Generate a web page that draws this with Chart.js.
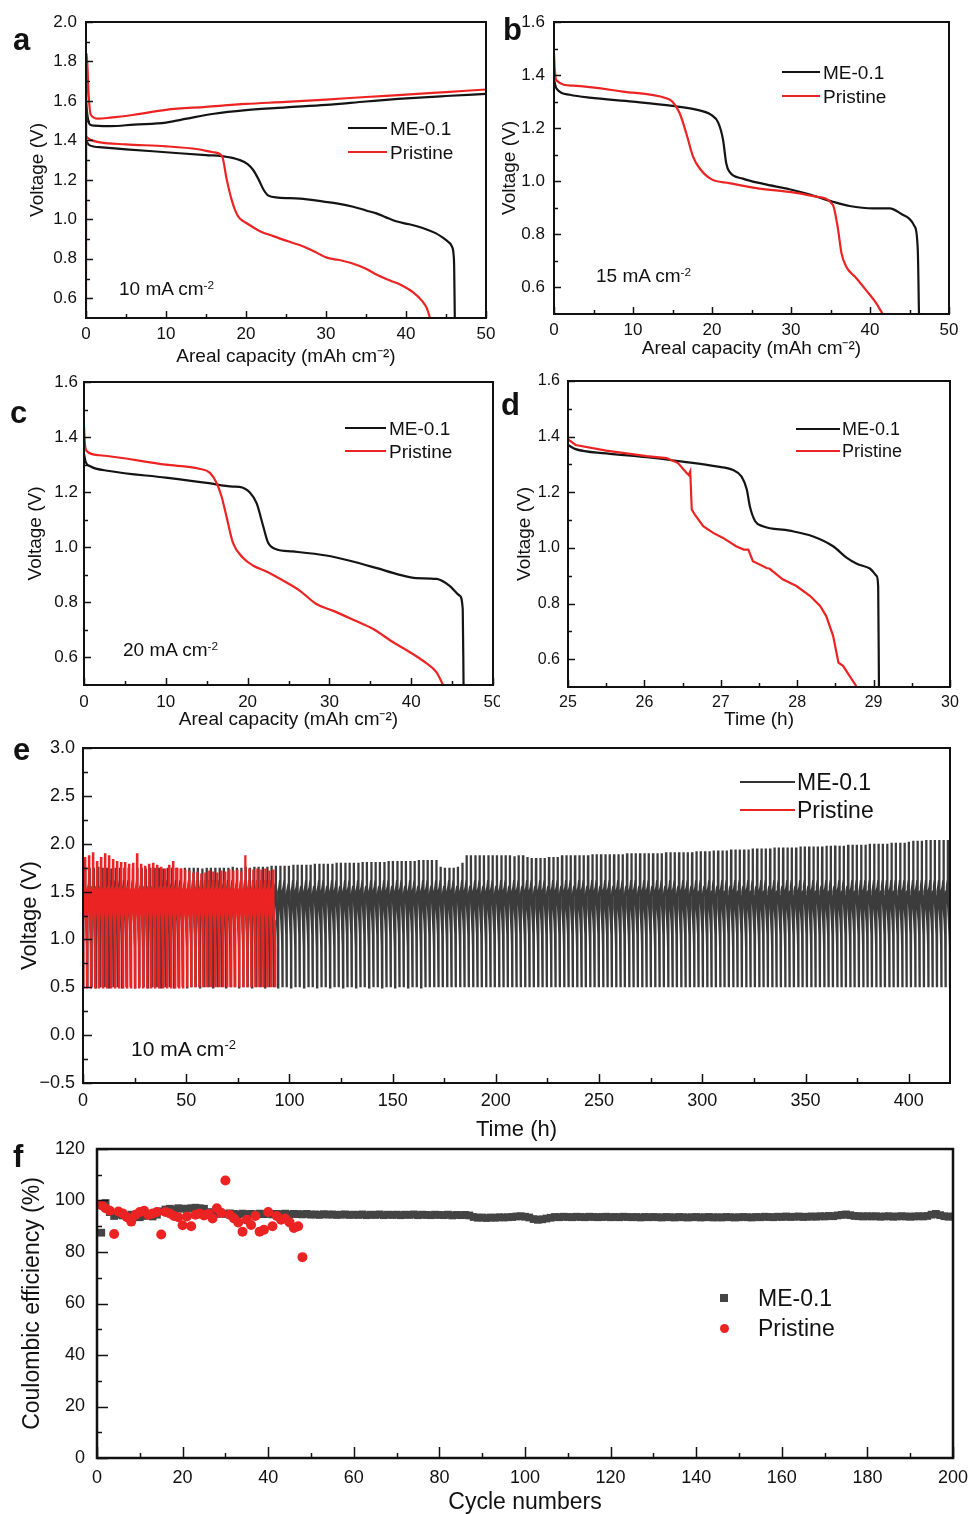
<!DOCTYPE html>
<html><head><meta charset="utf-8">
<script src="https://cdn.jsdelivr.net/npm/chart.js@4/dist/chart.umd.min.js"></script>
<style>
html,body{margin:0;padding:0;background:#fff}
body{width:971px;height:1514px;position:relative;overflow:hidden;font-family:"Liberation Sans",Arial,Helvetica,sans-serif;color:#111}
canvas{position:absolute}
.t{position:absolute;white-space:nowrap;line-height:1}
.t sup{font-size:0.62em;position:relative;top:-0.5em;vertical-align:baseline;line-height:0}
.ln{position:absolute;height:2px}
</style></head><body>
<script>
// ---------------- DATA ----------------
// Panel a (10 mA cm-2): [capacity mAh cm-2, voltage V]
const aME_dis = [[0,1.40],[0.4,1.376],[2,1.365],[5,1.355],[10,1.34],[15,1.325],[17,1.32],[19.25,1.30],[20.2,1.28],[20.9,1.25],[21.6,1.2],[22.2,1.15],[22.8,1.12],[24,1.11],[26.75,1.105],[29.7,1.09],[31.5,1.08],[33.4,1.064],[35,1.045],[36.3,1.03],[37.5,1.01],[38.75,0.99],[40.4,0.975],[42.5,0.95],[43.7,0.93],[44.6,0.907],[45.3,0.885],[45.7,0.865],[45.95,0.82],[46.02,0.76],[46.1,0.5]];
const aME_chg = [[0,1.60],[0.2,1.52],[0.5,1.48],[1,1.475],[3,1.472],[6,1.48],[10,1.49],[12.6,1.51],[16,1.535],[20,1.553],[25,1.567],[30,1.58],[35,1.597],[39,1.61],[45,1.625],[50,1.636]];
const aPR_dis = [[0,1.42],[0.5,1.405],[1.75,1.39],[5,1.38],[10,1.37],[14,1.355],[15.9,1.34],[17,1.32],[17.6,1.2],[18.2,1.1],[18.7,1.04],[19.1,1.01],[20.1,0.98],[21.75,0.94],[23.4,0.915],[25.9,0.88],[27,0.865],[28.4,0.84],[30.1,0.806],[31.5,0.795],[33.4,0.775],[35,0.75],[36.3,0.72],[38,0.69],[39.25,0.67],[40.9,0.63],[42,0.587],[42.6,0.55],[43,0.5]];
const aPR_chg = [[0,0.5],[0.03,1.6],[0.1,1.84],[0.3,1.65],[0.6,1.53],[1.5,1.51],[3,1.515],[6,1.53],[10,1.555],[15,1.57],[20,1.585],[25,1.595],[30,1.607],[35,1.62],[40,1.632],[45,1.645],[50,1.658]];
// Panel b (15 mA cm-2)
const bME = [[0,1.382],[0.3,1.35],[2,1.326],[4.5,1.315],[10,1.30],[15,1.284],[18,1.27],[19.9,1.25],[20.8,1.22],[21.4,1.156],[21.8,1.068],[22.2,1.036],[23.9,1.01],[26.5,0.99],[29.8,0.97],[32.4,0.95],[35.3,0.923],[37.4,0.907],[40.4,0.898],[42.5,0.898],[44.2,0.873],[45.65,0.83],[46.05,0.74],[46.2,0.5]];
const bPR = [[0,1.48],[0.1,1.42],[0.3,1.38],[2.4,1.36],[8.7,1.338],[14.2,1.313],[15,1.30],[15.9,1.257],[16.75,1.18],[17.6,1.093],[18.4,1.05],[19.9,1.008],[22.2,0.993],[25.6,0.974],[29.8,0.96],[33.2,0.942],[35.3,0.911],[35.9,0.829],[36.4,0.728],[37,0.678],[38.3,0.634],[39.5,0.59],[40.8,0.54],[41.6,0.5]];
// Panel c (20 mA cm-2)
const cME = [[0,1.34],[0.2,1.31],[0.7,1.295],[3.1,1.277],[10,1.253],[15,1.234],[18.2,1.22],[19,1.219],[20.3,1.198],[21.1,1.16],[21.9,1.077],[22.5,1.017],[23.5,0.993],[25.5,0.985],[29.6,0.97],[32.5,0.951],[35.7,0.925],[38.6,0.90],[40.6,0.888],[43.1,0.885],[44.7,0.86],[45.9,0.825],[46.3,0.776],[46.4,0.5]];
const cPR = [[0,1.44],[0.1,1.38],[0.3,1.35],[1.9,1.334],[10,1.30],[14.1,1.285],[15.4,1.27],[16.2,1.234],[16.8,1.186],[17.4,1.114],[18.2,1.017],[19.4,0.963],[20.7,0.933],[22.3,0.912],[24.7,0.873],[26.4,0.842],[28.4,0.794],[30.4,0.77],[32.9,0.737],[35.3,0.704],[37.8,0.655],[39.8,0.62],[41.8,0.58],[43.1,0.546],[43.9,0.5]];
// Panel d (time h)
const dME = [[25,1.37],[25.1,1.355],[25.5,1.34],[26.03,1.326],[26.5,1.31],[26.94,1.293],[27.16,1.28],[27.27,1.257],[27.34,1.21],[27.38,1.15],[27.45,1.096],[27.55,1.078],[27.9,1.062],[28.2,1.042],[28.47,1.006],[28.65,0.964],[28.78,0.943],[28.95,0.926],[29.04,0.899],[29.06,0.86],[29.07,0.5]];
const dPR = [[25,1.39],[25.1,1.37],[25.5,1.35],[26.03,1.33],[26.29,1.323],[26.44,1.305],[26.55,1.27],[26.58,1.262],[26.6,1.275],[26.62,1.138],[26.66,1.12],[26.77,1.078],[26.9,1.054],[27.03,1.036],[27.2,1.006],[27.3,0.994],[27.36,0.994],[27.42,0.952],[27.6,0.928],[27.64,0.925],[27.81,0.887],[27.99,0.863],[28.17,0.827],[28.3,0.791],[28.38,0.755],[28.47,0.684],[28.54,0.588],[28.6,0.576],[28.78,0.5]];
// Panel e: end-of-charge voltage of each cycle
const eME_peak = [1.76,1.75,1.75,1.76,1.75,1.75,1.74,1.75,1.75,1.75,
1.75,1.74,1.75,1.75,1.74,1.75,1.75,1.75,1.74,1.75,
1.75,1.75,1.74,1.75,1.75,1.75,1.75,1.74,1.75,1.75,
1.75,1.75,1.75,1.75,1.76,1.75,1.75,1.76,1.75,1.76,
1.76,1.76,1.76,1.77,1.77,1.77,1.77,1.77,1.78,1.78,
1.78,1.78,1.78,1.79,1.79,1.79,1.79,1.79,1.80,1.80,
1.80,1.80,1.80,1.80,1.81,1.81,1.81,1.81,1.81,1.81,
1.82,1.82,1.82,1.82,1.82,1.82,1.82,1.83,1.83,1.83,
1.83,1.83,1.76,1.75,1.75,1.75,1.76,1.80,1.88,1.88,
1.88,1.88,1.88,1.88,1.88,1.88,1.88,1.88,1.88,1.87,
1.88,1.88,1.86,1.85,1.85,1.85,1.85,1.86,1.86,1.86,
1.88,1.88,1.88,1.88,1.88,1.88,1.88,1.89,1.89,1.89,
1.89,1.89,1.89,1.89,1.89,1.90,1.90,1.90,1.90,1.90,
1.90,1.90,1.90,1.90,1.91,1.91,1.91,1.91,1.91,1.91,
1.91,1.92,1.92,1.92,1.92,1.93,1.93,1.93,1.93,1.94,
1.94,1.94,1.94,1.94,1.95,1.95,1.95,1.95,1.95,1.96,
1.96,1.96,1.96,1.96,1.96,1.97,1.97,1.97,1.97,1.97,
1.97,1.98,1.98,1.98,1.98,1.98,1.99,1.99,1.99,1.99,
1.99,2.00,2.00,2.00,2.00,2.00,2.01,2.01,2.01,2.01,
2.02,2.03,2.03,2.03,2.04,2.04,2.04,2.04,2.04,2.04];
const ePR_peak = [1.86,1.88,1.91,1.82,1.86,1.90,1.88,1.84,1.82,1.81,
1.81,1.79,1.80,1.90,1.79,1.77,1.79,1.80,1.78,1.76,
1.74,1.78,1.82,1.75,1.74,1.73,1.72,1.70,1.71,1.69,
1.70,1.72,1.71,1.70,1.72,1.71,1.73,1.72,1.73,1.71,
1.88,1.74,1.73,1.74,1.73,1.74,1.72,1.73];
const eME_cycleHours = 2.1;
const ePR_cycleHours = 1.94;
// one galvanostatic cycle: fraction of cycle time vs voltage (null = end-of-charge peak)
const eCycleFrac = [0,0.02,0.10,0.30,0.47,0.50,0.52,0.60,0.75,0.90,0.97,1.0];
const eCycleV    = [0.5,1.45,1.50,1.55,1.62,null,1.40,1.33,1.20,1.05,0.92,0.5];
// Panel f: Coulombic efficiency (%) per cycle
const fME_ce = [87.5,99.0,95.5,94.0,94.5,94.2,93.8,94.5,94.0,93.5,
94.0,94.5,93.8,94.5,95.8,96.5,96.8,96.5,97.0,96.8,
96.8,97.0,97.2,97.0,96.8,95.5,95.0,94.8,95.0,94.8,
95.0,94.8,94.6,94.9,94.7,94.8,94.6,94.9,94.7,94.8,
94.6,94.8,94.7,94.9,94.6,94.8,94.7,94.6,94.8,94.5,
94.6,94.4,94.7,94.5,94.6,94.4,94.5,94.6,94.4,94.5,
94.4,94.6,94.3,94.5,94.4,94.6,94.3,94.5,94.4,94.5,
94.3,94.5,94.4,94.6,94.3,94.5,94.4,94.3,94.5,94.4,
94.3,94.5,94.2,94.4,94.3,94.4,94.2,93.6,93.3,93.4,
93.2,93.4,93.3,93.5,93.4,93.5,93.6,93.8,93.9,93.7,
93.4,92.8,92.5,92.7,93.0,93.3,93.6,93.5,93.7,93.6,
93.5,93.7,93.6,93.5,93.7,93.6,93.5,93.6,93.7,93.5,
93.6,93.5,93.7,93.6,93.5,93.6,93.4,93.6,93.5,93.6,
93.5,93.4,93.6,93.5,93.4,93.6,93.5,93.4,93.5,93.6,
93.4,93.5,93.6,93.4,93.5,93.4,93.6,93.5,93.4,93.5,
93.6,93.5,93.4,93.6,93.5,93.7,93.6,93.5,93.7,93.6,
93.8,93.6,93.7,93.8,93.6,93.7,93.8,93.7,93.9,93.8,
94.0,93.9,94.2,94.4,94.6,94.3,94.0,93.9,93.8,93.9,
93.8,93.9,93.7,93.8,93.9,93.7,93.8,93.9,93.8,93.7,
93.8,93.9,93.8,94.0,94.5,94.8,94.3,93.9,93.7,93.8];
const fPR_ce = [98.2,97.0,96.0,87.0,95.7,95.0,93.5,91.8,94.5,95.5,
96.0,94.5,95.0,95.5,86.8,95.5,95.0,94.0,93.5,90.4,
93.8,90.0,94.5,95.0,94.2,94.8,93.0,97.0,95.2,107.8,
94.5,93.0,91.5,87.9,92.5,90.5,94.0,87.9,88.6,95.5,
90.0,94.0,92.5,93.0,91.5,89.3,90.0,78.0];

// Tick values and labels
const capTicks = [0,10,20,30,40,50];
const capTickLabels = ['0','10','20','30','40','50'];
const vTicksA = [0.6,0.8,1.0,1.2,1.4,1.6,1.8,2.0];
const vTickLabelsA = ['0.6','0.8','1.0','1.2','1.4','1.6','1.8','2.0'];
const vTicksBCD = [0.6,0.8,1.0,1.2,1.4,1.6];
const vTickLabelsBCD = ['0.6','0.8','1.0','1.2','1.4','1.6'];
const timeTicksD = [25,26,27,28,29,30];
const timeTickLabelsD = ['25','26','27','28','29','30'];
const timeTicksE = [0,50,100,150,200,250,300,350,400];
const timeTickLabelsE = ['0','50','100','150','200','250','300','350','400'];
const vTicksE = [-0.5,0,0.5,1.0,1.5,2.0,2.5,3.0];
const vTickLabelsE = ['\u22120.5','0.0','0.5','1.0','1.5','2.0','2.5','3.0'];
const cycTicksF = [0,20,40,60,80,100,120,140,160,180,200];
const cycTickLabelsF = ['0','20','40','60','80','100','120','140','160','180','200'];
const ceTicksF = [0,20,40,60,80,100,120];
const ceTickLabelsF = ['0','20','40','60','80','100','120'];

const BLACK = '#141414', RED = '#ec2323', EBLACK = '#333333', FGREY = '#444444';

// ---------------- PLUGIN: frame + inward ticks ----------------
const frameTicks = {
  id: 'frameTicks',
  afterDatasetsDraw(chart, args, o) {
    const {ctx, chartArea: ca, scales} = chart;
    const sx = scales.x, sy = scales.y;
    const majX = sx.ticks.map(t => t.value), majY = sy.ticks.map(t => t.value);
    const mid = a => a.slice(1).map((v, i) => (v + a[i]) / 2);
    ctx.save();
    ctx.strokeStyle = '#111';
    ctx.lineWidth = o.tickWidth || 1.5;
    const dx = (vals, len) => vals.forEach(v => {
      const p = Math.round(sx.getPixelForValue(v)) + 0.5;
      if (p < ca.left - 1 || p > ca.right + 1) return;
      ctx.beginPath(); ctx.moveTo(p, ca.bottom); ctx.lineTo(p, ca.bottom - len); ctx.stroke();
    });
    const dy = (vals, len) => vals.forEach(v => {
      const p = Math.round(sy.getPixelForValue(v)) + 0.5;
      if (p < ca.top - 1 || p > ca.bottom + 1) return;
      ctx.beginPath(); ctx.moveTo(ca.left, p); ctx.lineTo(ca.left + len, p); ctx.stroke();
    });
    dx(majX, o.major); dx(mid(majX), o.minor);
    dy(majY, o.major); dy(mid(majY), o.minor);
    ctx.lineWidth = o.frame || 2;
    ctx.strokeRect(ca.left, ca.top, ca.right - ca.left, ca.bottom - ca.top);
    ctx.restore();
  }
};
Chart.register(frameTicks);
Chart.defaults.font.family = '"Liberation Sans", Arial, Helvetica, sans-serif';
Chart.defaults.color = '#111';

function pts(arr) { return arr.map(p => ({x: p[0], y: p[1]})); }
function lineDs(label, arr, color, w, mono) {
  return {label, data: pts(arr), showLine: true, borderColor: color, backgroundColor: color,
    borderWidth: w, pointRadius: 0, tension: 0, cubicInterpolationMode: mono ? 'monotone' : 'default'};
}

function makeChart(c) {
  const cv = document.createElement('canvas');
  cv.width = c.W; cv.height = c.H;
  Object.assign(cv.style, {left: c.left + 'px', top: c.top + 'px', width: c.W + 'px', height: c.H + 'px'});
  document.body.appendChild(cv);
  return new Chart(cv.getContext('2d'), {
    type: 'scatter',
    data: {datasets: c.datasets},
    options: {
      responsive: false, animation: false, devicePixelRatio: 1,
      layout: {padding: {left: 0, top: c.area.T, right: c.W - c.area.R, bottom: 0}},
      plugins: {legend: {display: false}, tooltip: {enabled: false}, frameTicks: c.tk},
      scales: {
        x: {type: 'linear', min: c.x.min, max: c.x.max,
          afterBuildTicks: s => { s.ticks = c.x.ticks.map(v => ({value: v})); },
          afterFit: s => { s.height = c.H - c.area.B; s.paddingLeft = 0; s.paddingRight = 0; },
          ticks: {font: {size: c.x.fs}, padding: c.x.pad, maxRotation: 0, autoSkip: false, color: '#111',
            callback: (v, i) => c.x.labels[i]},
          grid: {display: false, drawTicks: false}, border: {display: false},
          title: {display: true, text: c.x.title, font: {size: c.x.tfs}, color: '#111', padding: {top: 0, bottom: c.x.tpad}}
        },
        y: {type: 'linear', min: c.y.min, max: c.y.max,
          afterBuildTicks: s => { s.ticks = c.y.ticks.map(v => ({value: v})); },
          afterFit: s => { s.width = c.area.L; s.paddingTop = 0; s.paddingBottom = 0; },
          ticks: {font: {size: c.y.fs}, padding: c.y.pad, autoSkip: false, color: '#111',
            callback: (v, i) => c.y.labels[i]},
          grid: {display: false, drawTicks: false}, border: {display: false},
          title: {display: true, text: c.y.title, font: {size: c.y.tfs}, color: '#111', padding: {top: c.y.tpad, bottom: 0}}
        }
      }
    }
  });
}

// ---------- panel a ----------
makeChart({left: 0, top: 0, W: 500, H: 370, area: {L: 86, T: 22, R: 486, B: 318},
  tk: {major: 7, minor: 4, frame: 2},
  x: {min: 0, max: 50, ticks: capTicks, labels: capTickLabels, fs: 17, pad: 6, title: 'Areal capacity (mAh cm\u207B\u00B2)', tfs: 19, tpad: 1.6},
  y: {min: 0.5, max: 2.0, ticks: vTicksA, labels: vTickLabelsA, fs: 17, pad: 9, title: 'Voltage (V)', tfs: 19, tpad: 26.6},
  datasets: [lineDs('Pristine', aPR_chg, RED, 2.2, true), lineDs('Pristine', aPR_dis, RED, 2.2, true),
             lineDs('ME-0.1', aME_chg, BLACK, 2.2, true), lineDs('ME-0.1', aME_dis, BLACK, 2.2, true)]
});
// ---------- panel b ----------
makeChart({left: 490, top: 0, W: 481, H: 370, area: {L: 64, T: 22, R: 459, B: 314},
  tk: {major: 7, minor: 4, frame: 2},
  x: {min: 0, max: 50, ticks: capTicks, labels: capTickLabels, fs: 17, pad: 6, title: 'Areal capacity (mAh cm\u207B\u00B2)', tfs: 19, tpad: 9.6},
  y: {min: 0.5, max: 1.6, ticks: vTicksBCD, labels: vTickLabelsBCD, fs: 17, pad: 9, title: 'Voltage (V)', tfs: 19, tpad: 8.6},
  datasets: [lineDs('Pristine', bPR, RED, 2.2, true), lineDs('ME-0.1', bME, BLACK, 2.2, true)]
});
// ---------- panel c ----------
makeChart({left: 0, top: 370, W: 500, H: 370, area: {L: 84, T: 12, R: 493, B: 315},
  tk: {major: 7, minor: 4, frame: 2},
  x: {min: 0, max: 50, ticks: capTicks, labels: capTickLabels, fs: 17, pad: 7, title: 'Areal capacity (mAh cm\u207B\u00B2)', tfs: 19, tpad: 9},
  y: {min: 0.5, max: 1.6, ticks: vTicksBCD, labels: vTickLabelsBCD, fs: 17, pad: 6, title: 'Voltage (V)', tfs: 19, tpad: 24.6},
  datasets: [lineDs('Pristine', cPR, RED, 2.2, true), lineDs('ME-0.1', cME, BLACK, 2.2, true)]
});
// ---------- panel d ----------
makeChart({left: 490, top: 370, W: 481, H: 370, area: {L: 78, T: 11, R: 460, B: 317},
  tk: {major: 7, minor: 4, frame: 2},
  x: {min: 25, max: 30, ticks: timeTicksD, labels: timeTickLabelsD, fs: 16, pad: 6, title: 'Time (h)', tfs: 19, tpad: 8.6},
  y: {min: 0.5, max: 1.6, ticks: vTicksBCD, labels: vTickLabelsBCD, fs: 16, pad: 8, title: 'Voltage (V)', tfs: 19, tpad: 23.6},
  datasets: [lineDs('Pristine', dPR, RED, 2.2, false), lineDs('ME-0.1', dME, BLACK, 2.2, true)]
});
// ---------- panel e ----------
function cycles(peaks, hours) {
  const out = [];
  peaks.forEach((pk, i) => {
    eCycleFrac.forEach((f, k) => out.push([(i + f) * hours, eCycleV[k] === null ? pk : eCycleV[k]]));
  });
  return out;
}
makeChart({left: 0, top: 740, W: 971, H: 410, area: {L: 83, T: 8, R: 950, B: 343},
  tk: {major: 9, minor: 5, frame: 2},
  x: {min: 0, max: 420, ticks: timeTicksE, labels: timeTickLabelsE, fs: 18, pad: 7, title: 'Time (h)', tfs: 22, tpad: 6.8},
  y: {min: -0.5, max: 3.0, ticks: vTicksE, labels: vTickLabelsE, fs: 18, pad: 8, title: 'Voltage (V)', tfs: 22, tpad: 16.8},
  datasets: [lineDs('Pristine', cycles(ePR_peak, ePR_cycleHours), RED, 2.3, false),
             lineDs('ME-0.1', cycles(eME_peak, eME_cycleHours), '#3c3c3c', 2.3, false)]
});
// ---------- panel f ----------
makeChart({left: 0, top: 1140, W: 971, H: 380, area: {L: 97, T: 9, R: 953, B: 318},
  tk: {major: 11, minor: 5, frame: 2.5},
  x: {min: 0, max: 200, ticks: cycTicksF, labels: cycTickLabelsF, fs: 18, pad: 9, title: 'Cycle numbers', tfs: 23, tpad: 4},
  y: {min: 0, max: 120, ticks: ceTicksF, labels: ceTickLabelsF, fs: 18, pad: 12, title: 'Coulombic efficiency (%)', tfs: 23, tpad: 19.2},
  datasets: [
    {label: 'Pristine', data: fPR_ce.map((v, i) => ({x: i + 1, y: v})), pointStyle: 'circle', pointRadius: 5,
      backgroundColor: RED, borderColor: RED, borderWidth: 0, showLine: false},
    {label: 'ME-0.1', data: fME_ce.map((v, i) => ({x: i + 1, y: v})), pointStyle: 'rect', pointRadius: 5.5,
      backgroundColor: FGREY, borderColor: FGREY, borderWidth: 0, showLine: false}
  ]
});

// ---------------- text overlays ----------------
function txt(x, cy, html, size, bold) {
  const d = document.createElement('div');
  d.className = 't';
  d.style.left = x + 'px';
  d.style.top = (cy - 0.49 * size) + 'px';
  d.style.fontSize = size + 'px';
  if (bold) d.style.fontWeight = 'bold';
  d.innerHTML = html;
  document.body.appendChild(d);
}
function letter(x, baseline, ch) {
  const d = document.createElement('div');
  d.className = 't';
  d.style.left = x + 'px';
  d.style.top = (baseline - 0.846 * 31) + 'px';
  d.style.fontSize = '31px';
  d.style.fontWeight = 'bold';
  d.textContent = ch;
  document.body.appendChild(d);
}
function seg(x1, x2, y, color) {
  const d = document.createElement('div');
  d.className = 'ln';
  Object.assign(d.style, {left: x1 + 'px', top: (y - 1) + 'px', width: (x2 - x1) + 'px', background: color});
  document.body.appendChild(d);
}
function marker(cx, cy, size, color, round) {
  const d = document.createElement('div');
  Object.assign(d.style, {position: 'absolute', left: (cx - size / 2) + 'px', top: (cy - size / 2) + 'px',
    width: size + 'px', height: size + 'px', background: color, borderRadius: round ? '50%' : '0'});
  document.body.appendChild(d);
}

letter(13, 50, 'a'); letter(503, 40, 'b'); letter(10, 423, 'c'); letter(501, 415, 'd'); letter(13, 760, 'e'); letter(13, 1167, 'f');

// legends
seg(348, 387, 128, BLACK); txt(390, 128, 'ME-0.1', 19); seg(348, 387, 152, RED); txt(390, 152, 'Pristine', 19);
seg(782, 820, 72, BLACK); txt(823, 72, 'ME-0.1', 19); seg(782, 820, 96, RED); txt(823, 96, 'Pristine', 19);
seg(345, 386, 428, BLACK); txt(389, 428, 'ME-0.1', 19); seg(345, 386, 451, RED); txt(389, 451, 'Pristine', 19);
seg(796, 840, 429, BLACK); txt(842, 429, 'ME-0.1', 18); seg(796, 840, 451, RED); txt(842, 451, 'Pristine', 18);
seg(740, 795, 782, EBLACK); txt(797, 782, 'ME-0.1', 23); seg(740, 795, 810, RED); txt(797, 810, 'Pristine', 23);
marker(724, 1298, 8, FGREY, false); txt(758, 1298, 'ME-0.1', 23);
marker(724, 1328, 9, RED, true); txt(758, 1328, 'Pristine', 23);

// current-density annotations
txt(119, 288.5, '10 mA cm<sup>-2</sup>', 19);
txt(596, 275, '15 mA cm<sup>-2</sup>', 19);
txt(123, 649, '20 mA cm<sup>-2</sup>', 19);
txt(131, 1048, '10 mA cm<sup>-2</sup>', 21);
</script>
</body></html>
